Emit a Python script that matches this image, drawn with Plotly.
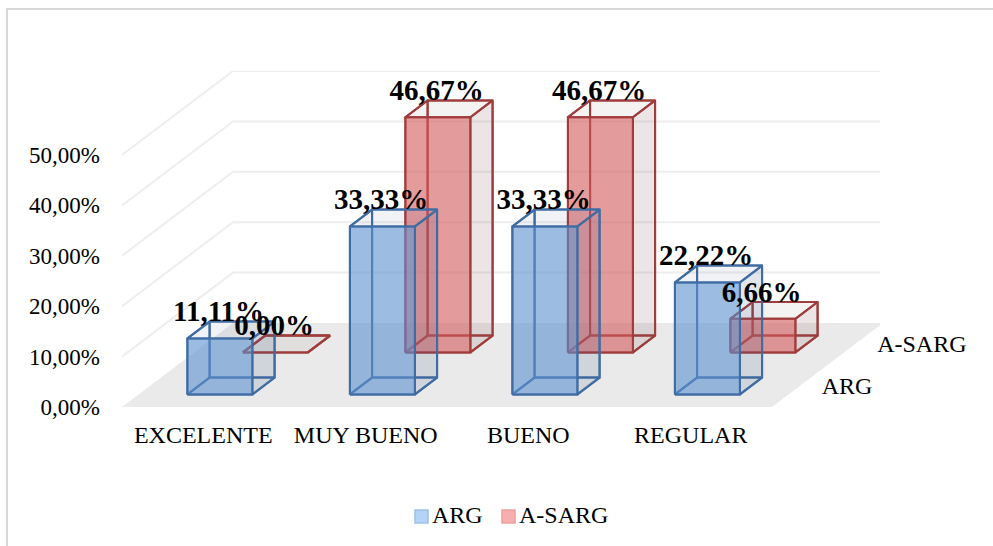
import plotly.graph_objects as go

categories = ["EXCELENTE", "MUY BUENO", "BUENO", "REGULAR"]
series_names = ["ARG", "A-SARG"]
arg_values = [11.11, 33.33, 33.33, 22.22]
asarg_values = [0.00, 46.67, 46.67, 6.66]
y_ticks = [0, 10, 20, 30, 40, 50]
y_tick_labels = ["0,00%", "10,00%", "20,00%", "30,00%", "40,00%", "50,00%"]
value_labels_arg = ["11,11%", "33,33%", "33,33%", "22,22%"]
value_labels_asarg = ["0,00%", "46,67%", "46,67%", "6,66%"]

W, H = 993, 546
PL, PR, PT, PB = 122, 880, 71, 407          # plot rectangle in the page
UX = 162.5                                  # px per category
UY = 5.04                                   # px per percent
DEPTH_X = 55.5 / UX                         # shift in x per series slot
DEPTH_Y = 42.0 / UY                         # shift in y per series slot
BAR_W = 0.4
BAR_D = 0.4
x_lo = -0.5
x_hi = x_lo + (PR - PL) / UX
y_hi = (PB - PT) / UY
FONT = "Liberation Serif"
fw = PR - PL
fh = PB - PT


def px(x):
    return (x - PL) / fw


def py(y):
    return (PB - y) / fh


def proj(x, d, v):
    return x + d * DEPTH_X, v + d * DEPTH_Y


def poly(corners, fill, line, width=2):
    xs, ys = zip(*[proj(*c) for c in corners + corners[:1]])
    return go.Scatter(x=list(xs), y=list(ys), mode="lines", fill="toself", fillcolor=fill,
                      line=dict(color=line, width=width), hoverinfo="skip", showlegend=False)


fig = go.Figure()

# floor
fig.add_trace(poly([(x_lo, 0, 0), (3.5, 0, 0), (3.5, 2, 0), (x_lo, 2, 0)], "#eaeaea", "#eaeaea", 0))

# gridlines (side wall and back wall)
for t in y_ticks[1:]:
    a = proj(x_lo, 0, t)
    b = proj(x_lo, 2, t)
    c = proj(3.5, 2, t)
    fig.add_trace(go.Scatter(x=[a[0], b[0], c[0]], y=[a[1], b[1], c[1]], mode="lines",
                             line=dict(color="#eeeeee", width=2), hoverinfo="skip", showlegend=False))

styles = {
    0: dict(front="rgba(92,143,207,0.60)", side="rgba(60,85,135,0.15)", top="rgba(60,85,135,0.08)",
            back="rgba(92,143,207,0.0)", edge="#3f6ca3"),
    1: dict(front="rgba(210,88,88,0.60)", side="rgba(120,70,70,0.14)", top="rgba(120,70,70,0.07)",
            back="rgba(210,88,88,0.0)", edge="#a03c3c"),
}


def add_bar(i, s, v):
    st = styles[s]
    x0, x1 = i - BAR_W / 2, i + BAR_W / 2
    d0, d1 = s + 0.5 - BAR_D / 2, s + 0.5 + BAR_D / 2
    edge = st["edge"]
    fig.add_trace(poly([(x0, d1, 0), (x1, d1, 0), (x1, d1, v), (x0, d1, v)], st["back"], edge))
    fig.add_trace(poly([(x0, d0, 0), (x0, d1, 0), (x0, d1, v), (x0, d0, v)], st["back"], edge))
    fig.add_trace(poly([(x0, d0, 0), (x1, d0, 0), (x1, d1, 0), (x0, d1, 0)], st["back"], edge))
    fig.add_trace(poly([(x1, d0, 0), (x1, d1, 0), (x1, d1, v), (x1, d0, v)], st["side"], edge))
    fig.add_trace(poly([(x0, d0, v), (x1, d0, v), (x1, d1, v), (x0, d1, v)], st["top"], edge))
    if v > 0:
        fig.add_trace(poly([(x0, d0, 0), (x1, d0, 0), (x1, d0, v), (x0, d0, v)], st["front"], edge))


# back row first, then the front row, left to right
for i, v in enumerate(asarg_values):
    add_bar(i, 1, v)
for i, v in enumerate(arg_values):
    add_bar(i, 0, v)

# value labels
for s, (vals, labs) in enumerate([(arg_values, value_labels_arg), (asarg_values, value_labels_asarg)]):
    pts = [proj(i, s + 0.5 - BAR_D / 2, v) for i, v in enumerate(vals)]
    fig.add_trace(go.Scatter(x=[p[0] - 0.008 for p in pts], y=[p[1] + 4.85 for p in pts], mode="text", text=labs,
                             textposition="middle center",
                             textfont=dict(family=FONT, size=29, color="#000000"),
                             texttemplate="<b>%{text}</b>", hoverinfo="skip", showlegend=False,
                             cliponaxis=False))

# series names along the depth axis
pts = [proj(3.5, s + 0.5, 0) for s in range(2)]
fig.add_trace(go.Scatter(x=[p[0] + 0.135 for p in pts], y=[p[1] - 0.45 for p in pts], mode="text", text=series_names,
                         textposition="middle right", textfont=dict(family=FONT, size=24, color="#000000"),
                         hoverinfo="skip", showlegend=False, cliponaxis=False))

# chart frame
fig.add_shape(type="rect", xref="paper", yref="paper",
              x0=px(7), x1=px(1100), y0=py(560), y1=py(9),
              line=dict(color="#d9d9d9", width=2), fillcolor="rgba(0,0,0,0)", layer="below")

# legend: swatch sits close to its text, as in the original
legend_items = [("ARG", 415, 430, "#b3d3f7", "#9dc0ea"), ("A-SARG", 502, 517, "#f9aeae", "#eea0a0")]
annotations = []
for name, sw, tx, col, ln in legend_items:
    fig.add_shape(type="rect", xref="paper", yref="paper", x0=px(sw), x1=px(sw + 13), y0=py(523), y1=py(510),
                  line=dict(color=ln, width=1.5), fillcolor=col)
    annotations.append(dict(text=name, xref="paper", yref="paper", x=px(tx), y=py(515), xanchor="left",
                            yanchor="middle", showarrow=False, font=dict(family=FONT, size=24, color="#000000")))

fig.update_layout(
    width=W, height=H, autosize=False,
    margin=dict(l=PL, r=W - PR, t=PT, b=H - PB, pad=0, autoexpand=False),
    paper_bgcolor="#ffffff", plot_bgcolor="rgba(0,0,0,0)",
    font=dict(family=FONT, size=23, color="#000000"),
    showlegend=False,
    annotations=annotations,
    xaxis=dict(range=[x_lo, x_hi], tickmode="array", tickvals=list(range(4)), ticktext=categories,
               showgrid=False, zeroline=False, showline=False, ticks="", ticklabelstandoff=11,
               tickfont=dict(family=FONT, size=24), fixedrange=True, automargin=False),
    yaxis=dict(range=[0, y_hi], tickmode="array", tickvals=y_ticks, ticktext=y_tick_labels,
               showgrid=False, zeroline=False, showline=False, ticks="", ticklabelstandoff=21,
               tickfont=dict(family=FONT, size=23), fixedrange=True, automargin=False),
)

fig.write_html("out.html", config=dict(displayModeBar=False),
               post_script="document.body.style.margin='0';document.documentElement.style.overflow='hidden';")
